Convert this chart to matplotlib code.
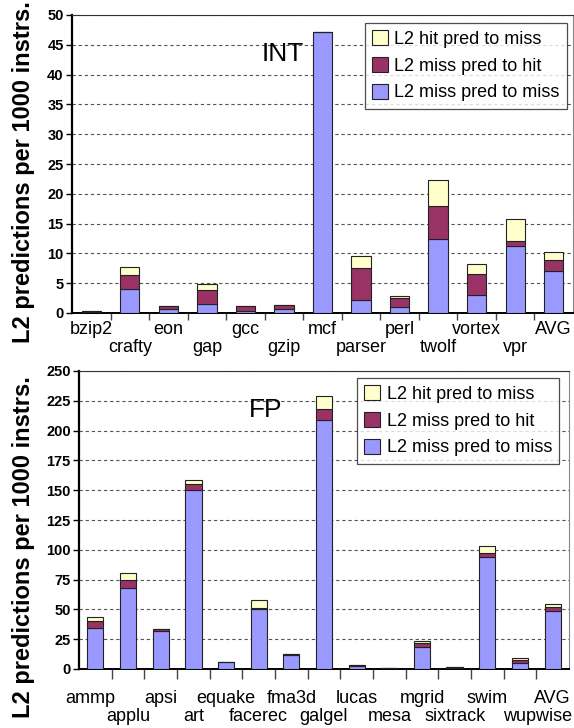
import matplotlib
matplotlib.use('Agg')
import matplotlib.pyplot as plt
import numpy as np
from matplotlib.patches import Patch

plt.rcParams['font.family'] = ['Liberation Sans', 'DejaVu Sans']

# INT benchmarks
int_names = ['bzip2', 'crafty', 'eon', 'gap', 'gcc', 'gzip', 'mcf',
             'parser', 'perl', 'twolf', 'vortex', 'vpr', 'AVG']
int_miss_miss = [0.1, 4.1, 0.6, 1.5, 0.4, 0.6, 47.2, 2.1, 1.0, 12.4, 3.1, 11.2, 7.0]
int_miss_hit = [0.2, 2.2, 0.6, 2.4, 0.8, 0.7, 0.0, 5.5, 1.5, 5.6, 3.4, 0.9, 1.9]
int_hit_miss = [0.0, 1.4, 0.0, 0.9, 0.0, 0.1, 0.0, 2.0, 0.3, 4.3, 1.7, 3.7, 1.3]

# FP benchmarks
fp_names = ['ammp', 'applu', 'apsi', 'art', 'equake', 'facerec', 'fma3d',
            'galgel', 'lucas', 'mesa', 'mgrid', 'sixtrack', 'swim', 'wupwise', 'AVG']
fp_miss_miss = [34.5, 67.6, 31.5, 150.0, 5.5, 50.3, 11.4, 209.0, 2.7, 0.5, 18.1, 1.0, 93.9, 5.0, 48.3]
fp_miss_hit = [5.5, 7.3, 1.7, 5.3, 0.0, 0.5, 1.2, 9.4, 0.3, 0.5, 3.7, 0.3, 3.3, 2.2, 3.7]
fp_hit_miss = [3.7, 5.8, 0.5, 3.6, 0.0, 7.0, 0.2, 10.9, 0.0, 0.0, 1.7, 0.0, 5.9, 2.0, 2.2]

labels = ['L2 hit pred to miss', 'L2 miss pred to hit', 'L2 miss pred to miss']
c_blue = '#9999FF'
c_maroon = '#993366'
c_yellow = '#FFFFCC'

W, H = 574, 728
fig = plt.figure(figsize=(W / 100, H / 100), dpi=100)


def draw_panel(ax, names, mm, mh, hm, ymax, ystep, tag, tag_xy, leg_xy, tick_len,
               lab_pad, nudge=None):
    nudge = nudge or {}
    x = np.arange(len(names))
    mm, mh, hm = np.array(mm), np.array(mh), np.array(hm)
    kw = dict(width=0.5, edgecolor='#222222', linewidth=0.8, zorder=3)
    ax.bar(x, mm, color=c_blue, **kw)
    ax.bar(x, mh, bottom=mm, color=c_maroon, **kw)
    ax.bar(x, hm, bottom=mm + mh, color=c_yellow, **kw)

    ax.set_xlim(-0.5, len(names) - 0.5)
    ax.set_ylim(0, ymax)
    yt = np.arange(0, ymax + 1, ystep)
    ax.set_yticks(yt)
    ax.set_yticklabels([str(v) for v in yt], fontsize=10.5, fontweight='bold')
    ax.tick_params(axis='y', length=4, width=1, pad=2)
    ax.yaxis.grid(True, linestyle=(0, (3, 2.5)), color='#555555', linewidth=0.8, zorder=0)

    # ticks sit between categories; names go on two staggered rows
    ax.set_xticks([])
    ax.set_xticks(np.arange(0.5, len(names) - 0.5), minor=True)
    ax.tick_params(axis='x', which='minor', length=tick_len, width=1, color='#444444')
    for i, n in enumerate(names):
        dy = lab_pad + (13 if i % 2 else 0)
        ax.annotate(n, xy=(i, 0), xycoords=('data', 'axes fraction'),
                    xytext=(nudge.get(n, 0), -dy), textcoords='offset points',
                    ha='center', va='top', fontsize=13, annotation_clip=False)

    ax.spines['left'].set_linewidth(1.6)
    ax.spines['bottom'].set_linewidth(1.4)
    ax.spines['top'].set_color('#333333')
    ax.spines['right'].set_color('#888888')

    ax.text(tag_xy[0], tag_xy[1], tag, transform=ax.transAxes, fontsize=19,
            ha='center', va='center')

    handles = [Patch(facecolor=c_yellow, edgecolor='#222222', linewidth=0.8),
               Patch(facecolor=c_maroon, edgecolor='#222222', linewidth=0.8),
               Patch(facecolor=c_blue, edgecolor='#222222', linewidth=0.8)]
    leg = ax.legend(handles, labels, loc='upper right', bbox_to_anchor=leg_xy,
                    fontsize=13, frameon=True, fancybox=False, borderpad=0.4,
                    labelspacing=0.5, handlelength=0.9, handleheight=0.9,
                    handletextpad=0.35, borderaxespad=0)
    leg.get_frame().set_edgecolor('#222222')
    leg.get_frame().set_linewidth(0.9)
    leg.set_zorder(5)


ax1 = fig.add_axes([72 / W, 1 - 313 / H, 501 / W, 298 / H])
draw_panel(ax1, int_names, int_miss_miss, int_miss_hit, int_hit_miss, 50, 5,
           'INT', (0.42, 0.87), (0.988, 0.973), 5, 6)

ax2 = fig.add_axes([79 / W, 1 - 669 / H, 490 / W, 298 / H])
draw_panel(ax2, fp_names, fp_miss_miss, fp_miss_hit, fp_hit_miss, 250, 25,
           'FP', (0.38, 0.87), (0.980, 0.977), 7, 15,
           nudge={'ammp': -4, 'wupwise': 13})

ylab = 'L2 predictions per 1000 instrs.'
fig.text(24 / W, 1 - 172 / H, ylab, rotation=90, fontsize=17, fontweight='bold',
         ha='center', va='center')
fig.text(24 / W, 1 - 547 / H, ylab, rotation=90, fontsize=17, fontweight='bold',
         ha='center', va='center')

fig.savefig('out.png', dpi=100)
